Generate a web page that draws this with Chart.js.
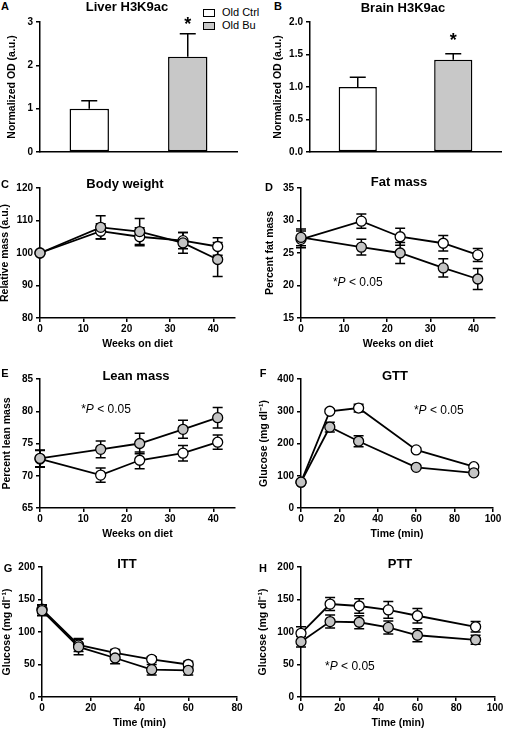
<!DOCTYPE html>
<html>
<head>
<meta charset="utf-8">
<script src="https://cdn.jsdelivr.net/npm/chart.js@4"></script>
<style>
body { margin: 0; background: #fff; }
#fig { position: relative; width: 506px; height: 730px; overflow: hidden; font-family: "Liberation Sans", Arial, sans-serif; }
#fig canvas { position: absolute; }
.txt { position: absolute; transform: translate(-50%, -50%); white-space: nowrap; font-weight: bold; color: #000; }
.letter { font-size: 11px; }
.title { font-size: 13px; }
.legend { position: absolute; left: 203px; top: 6px; font-size: 11px; line-height: 13px; }
.legend span { display: inline-block; width: 10px; height: 6px; border: 1.3px solid #000; margin-right: 7px; vertical-align: -1px; }
</style>
</head>
<body>
<div id="fig">
  <div class="legend">
    <div><span style="background:#fff"></span>Old Ctrl</div>
    <div><span style="background:#c8c8c8"></span>Old Bu</div>
  </div>
</div>
<script>
// ---- data ----
const groups = ['Old Ctrl', 'Old Bu'];

const liverMean = [1.0, 2.2];
const liverErr = [0.18, 0.53];
const liverTicks = [0, 1, 2, 3];

const brainMean = [1.0, 1.42];
const brainErr = [0.15, 0.09];
const brainTicks = [0, 0.5, 1.0, 1.5, 2.0];

const weeks = [0, 14, 23, 33, 41];
const weekTicks = [0, 10, 20, 30, 40];

const bodyCtrl = [100, 106.7, 105, 103.8, 102];
const bodyCtrlErr = [0, 2.3, 2.8, 2.5, 2.7];
const bodyBu = [100, 107.9, 106.6, 103.1, 98];
const bodyBuErr = [0, 3.6, 4.0, 3.2, 5.2];
const bodyTicks = [80, 90, 100, 110, 120];

const fatCtrl = [27.1, 29.9, 27.5, 26.5, 24.7];
const fatCtrlErr = [1.3, 1.1, 1.3, 1.2, 1.0];
const fatBu = [27.4, 25.9, 25.0, 22.7, 21.0];
const fatBuErr = [1.3, 1.2, 1.6, 1.4, 1.6];
const fatTicks = [15, 20, 25, 30, 35];

const leanCtrl = [72.6, 70.1, 72.4, 73.5, 75.2];
const leanCtrlErr = [1.3, 1.1, 1.3, 1.2, 1.1];
const leanBu = [72.7, 74.1, 75.0, 77.2, 79.0];
const leanBuErr = [1.3, 1.3, 1.6, 1.4, 1.6];
const leanTicks = [65, 70, 75, 80, 85];

const gttTime = [0, 15, 30, 60, 90];
const gttCtrl = [80, 300, 310, 180, 128];
const gttCtrlErr = [5, 6, 12, 6, 5];
const gttBu = [80, 251, 207, 126, 109];
const gttBuErr = [5, 15, 17, 6, 5];
const gttTicks = [0, 100, 200, 300, 400];

const ittTime = [0, 15, 30, 45, 60];
const ittCtrl = [135, 80, 68, 58, 50];
const ittCtrlErr = [7, 10, 5, 4, 5];
const ittBu = [133, 77, 60, 42, 41];
const ittBuErr = [8, 12, 9, 8, 7];

const pttTime = [0, 15, 30, 45, 60, 90];
const pttCtrl = [98, 143, 140, 134, 125, 108];
const pttCtrlErr = [10, 10, 11, 13, 11, 8];
const pttBu = [85, 116, 115, 107, 95, 88];
const pttBuErr = [8, 10, 10, 10, 10, 7];

const glucoseTicks = [0, 50, 100, 150, 200];
const minTicks100 = [0, 20, 40, 60, 80, 100];
const minTicks80 = [0, 20, 40, 60, 80];

// ---- setup ----
const FONT = '"Liberation Sans", Arial, sans-serif';
Chart.defaults.font.family = FONT;
Chart.defaults.color = '#000';
Chart.defaults.animation = false;
Chart.defaults.plugins.legend.display = false;
Chart.defaults.plugins.tooltip.enabled = false;

const GREY = '#c4c4c4';

function pxPerUnit(scale) {
  return Math.abs(scale.getPixelForValue(1) - scale.getPixelForValue(0));
}

// error bars, drawn under the points
const errorBars = {
  id: 'errorBars',
  beforeDatasetsDraw(chart, args, opts) {
    const ctx = chart.ctx;
    const unit = pxPerUnit(chart.scales.y);
    ctx.save();
    ctx.strokeStyle = '#000';
    ctx.lineWidth = 1.5;
    chart.data.datasets.forEach((ds, di) => {
      if (!ds.errors) return;
      chart.getDatasetMeta(di).data.forEach((el, i) => {
        const e = ds.errors[i] * unit;
        if (!e) return;
        const hi = el.y - e, lo = opts.upOnly ? el.y : el.y + e;
        ctx.beginPath();
        ctx.moveTo(el.x, lo); ctx.lineTo(el.x, hi);
        ctx.moveTo(el.x - opts.cap, hi); ctx.lineTo(el.x + opts.cap, hi);
        if (!opts.upOnly) { ctx.moveTo(el.x - opts.cap, lo); ctx.lineTo(el.x + opts.cap, lo); }
        ctx.stroke();
      });
    });
    ctx.restore();
  }
};

// significance stars and "*P < 0.05" notes
const marks = {
  id: 'marks',
  afterDatasetsDraw(chart, args, opts) {
    const ctx = chart.ctx;
    ctx.save();
    ctx.fillStyle = '#000';
    if (opts.stars) {
      const ds = chart.data.datasets[0];
      const meta = chart.getDatasetMeta(0);
      const unit = pxPerUnit(chart.scales.y);
      ctx.font = 'bold 18px ' + FONT;
      ctx.textAlign = 'center';
      ctx.textBaseline = 'alphabetic';
      opts.stars.forEach((s, i) => {
        if (!s) return;
        const el = meta.data[i];
        ctx.fillText('*', el.x, el.y - ds.errors[i] * unit - opts.gap);
      });
    }
    if (opts.note) {
      let x = chart.scales.x.getPixelForValue(opts.note.x);
      const y = chart.scales.y.getPixelForValue(opts.note.y);
      ctx.textAlign = 'left';
      ctx.textBaseline = 'middle';
      [['*', ''], ['P', 'italic '], [' < 0.05', '']].forEach(([t, st]) => {
        ctx.font = st + '12px ' + FONT;
        ctx.fillText(t, x, y);
        x += ctx.measureText(t).width;
      });
    }
    ctx.restore();
  }
};

Chart.register(errorBars, marks);

const fig = document.getElementById('fig');

function addText(cls, text, x, y) {
  const d = document.createElement('div');
  d.className = 'txt ' + cls;
  d.textContent = text;
  d.style.left = x + 'px';
  d.style.top = y + 'px';
  fig.appendChild(d);
}

// box = [left, right, top, bottom] of the plot area on the page
function panel(box, yw, xh, config) {
  const padT = 10, padR = 12;
  const cv = document.createElement('canvas');
  const left = box[0] - yw, top = box[2] - padT;
  cv.width = box[1] + padR - left;
  cv.height = box[3] + xh - top;
  cv.style.left = left + 'px';
  cv.style.top = top + 'px';
  fig.appendChild(cv);
  config.options.responsive = false;
  config.options.layout = { padding: { top: padT, right: padR, left: 0, bottom: 0 } };
  return new Chart(cv, config);
}

function yAxis(ticks, title, w, digits) {
  return {
    type: 'linear',
    min: ticks[0],
    max: ticks[ticks.length - 1],
    afterBuildTicks: s => { s.ticks = ticks.map(v => ({ value: v })); },
    afterFit: s => { s.width = w; },
    border: { color: '#000', width: 1.5 },
    grid: { drawOnChartArea: false, color: '#000', lineWidth: 1.5, tickLength: 4 },
    ticks: { font: { size: 10, weight: 'bold' }, padding: 3, callback: v => v.toFixed(digits) },
    title: { display: true, text: title, font: { size: 10.5, weight: 'bold' }, padding: 0 }
  };
}

function xAxis(max, ticks, title) {
  return {
    type: 'linear',
    min: 0,
    max: max,
    afterBuildTicks: s => { s.ticks = ticks.map(v => ({ value: v })); },
    afterFit: s => { s.height = 36; },
    border: { color: '#000', width: 1.5 },
    grid: { drawOnChartArea: false, color: '#000', lineWidth: 1.5, tickLength: 4 },
    ticks: { font: { size: 10, weight: 'bold' }, padding: 1, maxRotation: 0, autoSkip: false },
    title: { display: true, text: title, font: { size: 10.5, weight: 'bold' }, padding: { top: 0, bottom: 4 } }
  };
}

function series(xs, ys, errs, fill, order) {
  return {
    data: xs.map((x, i) => ({ x: x, y: ys[i] })),
    errors: errs,
    order: order,
    borderColor: '#000',
    borderWidth: 1.8,
    pointRadius: 5,
    pointBorderWidth: 1.3,
    pointBorderColor: '#000',
    pointBackgroundColor: fill,
    tension: 0,
    clip: false
  };
}

function barPanel(box, yw, means, errs, ticks, digits, stars, gap) {
  panel(box, yw, 10, {
    type: 'bar',
    data: {
      labels: groups,
      datasets: [{
        data: means,
        errors: errs,
        backgroundColor: ['#fff', '#c8c8c8'],
        borderColor: '#000',
        borderWidth: 1.5,
        borderSkipped: false,
        barPercentage: 0.4,
        categoryPercentage: 1
      }]
    },
    options: {
      scales: {
        x: {
          afterFit: s => { s.height = 10; },
          border: { color: '#000', width: 1.5 },
          grid: { display: false },
          ticks: { display: false }
        },
        y: yAxis(ticks, 'Normalized OD (a.u.)', yw, digits)
      },
      plugins: {
        errorBars: { cap: 8, upOnly: true },
        marks: { stars: stars, gap: gap }
      }
    }
  });
}

function linePanel(box, yw, ctrl, bu, xOpt, yOpt, note) {
  panel(box, yw, 36, {
    type: 'line',
    data: { datasets: [ctrl, bu] },
    options: {
      scales: { x: xOpt, y: yOpt },
      plugins: {
        errorBars: { cap: 5 },
        marks: { note: note }
      }
    }
  });
}

// A, B
barPanel([40, 237, 22, 152], 34, liverMean, liverErr, liverTicks, 0, [false, true], 4);
barPanel([310, 501, 22, 152], 38, brainMean, brainErr, brainTicks, 1, [false, true], 8);

// C body weight
linePanel([40, 235, 188, 318], 41,
  series(weeks, bodyCtrl, bodyCtrlErr, '#fff', 1),
  series(weeks, bodyBu, bodyBuErr, GREY, 0),
  xAxis(45, weekTicks, 'Weeks on diet'),
  yAxis(bodyTicks, 'Relative mass (a.u.)', 41, 0), null);

// D fat mass
linePanel([301, 495, 188, 318], 37,
  series(weeks, fatCtrl, fatCtrlErr, '#fff', 1),
  series(weeks, fatBu, fatBuErr, GREY, 0),
  xAxis(45, weekTicks, 'Weeks on diet'),
  yAxis(fatTicks, 'Percent fat mass', 37, 0), { x: 7.4, y: 20.4 });

// E lean mass
linePanel([40, 235, 379, 508], 39,
  series(weeks, leanCtrl, leanCtrlErr, '#fff', 1),
  series(weeks, leanBu, leanBuErr, GREY, 0),
  xAxis(45, weekTicks, 'Weeks on diet'),
  yAxis(leanTicks, 'Percent lean mass', 39, 0), { x: 9.5, y: 80.2 });

// F GTT
linePanel([301, 493, 379, 508], 43,
  series(gttTime, gttCtrl, gttCtrlErr, '#fff', 1),
  series(gttTime, gttBu, gttBuErr, GREY, 0),
  xAxis(100, minTicks100, 'Time (min)'),
  yAxis(gttTicks, 'Glucose (mg dl⁻¹)', 43, 0), { x: 58.8, y: 301 });

// G ITT
linePanel([42, 237, 567, 697], 41,
  series(ittTime, ittCtrl, ittCtrlErr, '#fff', 1),
  series(ittTime, ittBu, ittBuErr, GREY, 0),
  xAxis(80, minTicks80, 'Time (min)'),
  yAxis(glucoseTicks, 'Glucose (mg dl⁻¹)', 41, 0), null);

// H PTT
linePanel([301, 495, 567, 697], 44,
  series(pttTime, pttCtrl, pttCtrlErr, '#fff', 1),
  series(pttTime, pttBu, pttBuErr, GREY, 0),
  xAxis(100, minTicks100, 'Time (min)'),
  yAxis(glucoseTicks, 'Glucose (mg dl⁻¹)', 44, 0), { x: 12.4, y: 46 });

// panel letters and titles
addText('letter', 'A', 5, 6);
addText('letter', 'B', 278, 6);
addText('letter', 'C', 5, 184);
addText('letter', 'D', 269, 187);
addText('letter', 'E', 5, 373);
addText('letter', 'F', 263, 373);
addText('letter', 'G', 8, 568);
addText('letter', 'H', 263, 568);

addText('title', 'Liver H3K9ac', 127, 6);
addText('title', 'Brain H3K9ac', 403, 7);
addText('title', 'Body weight', 125, 183);
addText('title', 'Fat mass', 399, 181);
addText('title', 'Lean mass', 136, 375);
addText('title', 'GTT', 395, 375);
addText('title', 'ITT', 127, 563);
addText('title', 'PTT', 400, 563);
</script>
</body>
</html>
